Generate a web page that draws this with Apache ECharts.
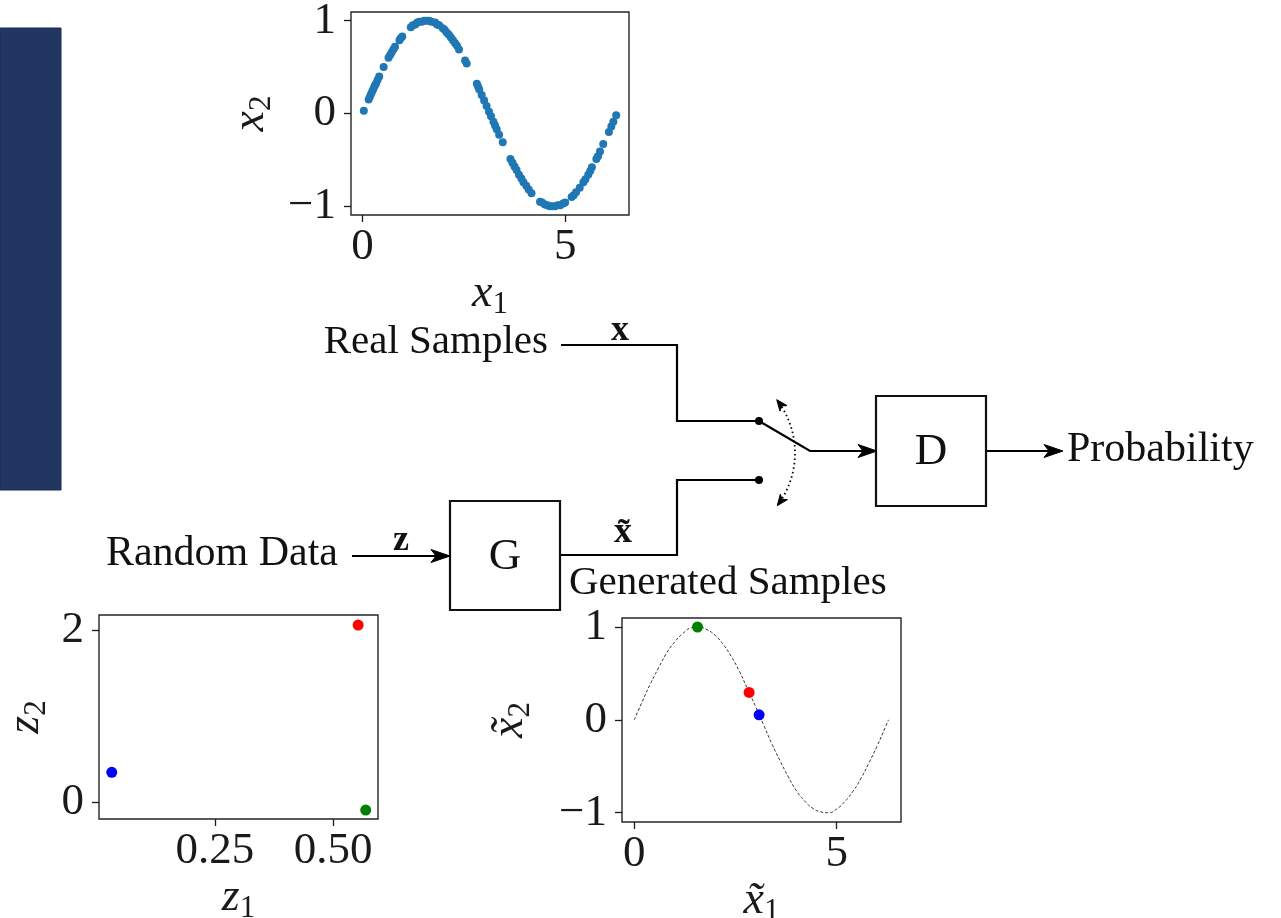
<!DOCTYPE html>
<html>
<head>
<meta charset="utf-8">
<script src="https://cdn.jsdelivr.net/npm/echarts@6/dist/echarts.min.js"></script>
<style>
  html, body { margin: 0; padding: 0; background: #fff; }
  #chart { width: 1281px; height: 918px; }
</style>
</head>
<body>
<div id="chart"></div>
<script>
// Real samples (x1, x2) drawn from the sine manifold
const realX1 = [0.03, 0.15, 0.18, 0.21, 0.24, 0.27, 0.30, 0.33, 0.37, 0.41, 0.52, 0.64, 0.68, 0.72, 0.76, 0.80,
  0.91, 0.94, 0.98, 1.19, 1.24, 1.30, 1.35, 1.40, 1.46, 1.52, 1.59, 1.64, 1.70, 1.79, 1.84, 1.89, 1.98, 2.03,
  2.08, 2.13, 2.18, 2.23, 2.28, 2.33, 2.38, 2.53, 2.57, 2.82, 2.85, 2.88, 2.94, 3.00, 3.06, 3.12, 3.17, 3.23,
  3.27, 3.31, 3.37, 3.46, 3.65, 3.70, 3.75, 3.80, 3.86, 3.92, 3.97, 4.04, 4.10, 4.17, 4.38, 4.43, 4.50, 4.56,
  4.62, 4.68, 4.75, 4.82, 4.88, 4.95, 5.00, 5.16, 5.21, 5.27, 5.36, 5.45, 5.50, 5.57, 5.62, 5.66, 5.77, 5.81,
  5.86, 5.94, 6.08, 6.14, 6.19, 6.26];
const realX2 = [0.03, 0.15, 0.18, 0.21, 0.24, 0.27, 0.30, 0.32, 0.36, 0.40, 0.50, 0.60, 0.63, 0.66, 0.69, 0.72,
  0.79, 0.81, 0.83, 0.93, 0.95, 0.96, 0.98, 0.99, 0.99, 1.00, 1.00, 1.00, 0.99, 0.98, 0.96, 0.95, 0.92, 0.90,
  0.87, 0.85, 0.82, 0.79, 0.76, 0.73, 0.69, 0.57, 0.54, 0.32, 0.29, 0.26, 0.20, 0.14, 0.08, 0.02, -0.03, -0.09,
  -0.13, -0.17, -0.23, -0.31, -0.49, -0.53, -0.57, -0.61, -0.66, -0.70, -0.74, -0.78, -0.82, -0.86, -0.95, -0.96, -0.98, -0.99,
  -1.00, -1.00, -1.00, -0.99, -0.99, -0.97, -0.96, -0.90, -0.88, -0.85, -0.80, -0.74, -0.71, -0.66, -0.62, -0.58, -0.49, -0.46,
  -0.41, -0.33, -0.20, -0.14, -0.09, -0.02];

// Latent codes fed to the generator
const latentZ1 = [0.032, 0.553, 0.569];
const latentZ2 = [0.352, 2.058, -0.085];
const pointColors = ['#0000ff', '#ff0000', '#008000'];

// Generated samples for those codes
const genX1 = [3.084, 2.837, 1.562];
const genX2 = [0.054, 0.295, 1.000];

// Reference curve behind the generated samples
const curveX = [0, 0.2, 0.4, 0.6, 0.8, 1.0, 1.2, 1.4, 1.6, 1.8, 2.0, 2.2, 2.4, 2.6, 2.8, 3.0, 3.2, 3.4, 3.6,
  3.8, 4.0, 4.2, 4.4, 4.6, 4.8, 5.0, 5.2, 5.4, 5.6, 5.8, 6.0, 6.2, 6.28];
const curveY = [0, 0.20, 0.39, 0.56, 0.72, 0.84, 0.93, 0.99, 1.00, 0.97, 0.91, 0.81, 0.68, 0.52, 0.33, 0.14,
  -0.06, -0.26, -0.44, -0.61, -0.76, -0.87, -0.95, -0.99, -1.00, -0.96, -0.88, -0.77, -0.63, -0.46, -0.28, -0.08, 0.00];

// Tick labels
const sineXTicks = [0, 5];
const sineYTicks = [-1, 0, 1];
const latentXTicks = [0.25, 0.50];
const latentYTicks = [0, 2];

const SERIF = '"Liberation Serif", "DejaVu Serif", serif';
const INK = '#1a1a1a';

const zip = (a, b) => a.map((v, i) => [v, b[i]]);
const fmtNum = (digits) => (v) => {
  const s = Math.abs(v).toFixed(digits);
  return v < 0 ? '\u2212' + s : s;
};

function axisName(base, sub, tilde) {
  return '{i|' + base + (tilde ? '\u0303' : '') + '}{s|' + sub + '}';
}
const nameRich = {
  i: { fontFamily: SERIF, fontStyle: 'italic', fontSize: 46, color: INK },
  s: { fontFamily: SERIF, fontSize: 31, color: INK, padding: [22, 0, 0, 0] }
};

function makeAxis(gridIndex, min, max, ticks, digits, name, gap, margin) {
  return {
    type: 'value', gridIndex, min, max,
    axisLine: { show: false, onZero: false },
    axisTick: { show: true, inside: false, length: 7, lineStyle: { color: INK, width: 1.3 }, customValues: ticks },
    axisLabel: { customValues: ticks, formatter: fmtNum(digits), fontFamily: SERIF, fontSize: 45, color: INK, margin },
    splitLine: { show: false },
    name, nameLocation: 'middle', nameGap: gap, nameTextStyle: { rich: nameRich }
  };
}

const frame = { show: true, borderColor: '#262626', borderWidth: 1.4, backgroundColor: 'transparent', outerBoundsMode: 'none', containLabel: false };

// ---- block diagram geometry ----
const LW = 2.2;
const black = '#000';
function arrowHead(tipX, tipY, angle, len, half, notch) {
  const dx = Math.cos(angle), dy = Math.sin(angle);
  const px = -dy, py = dx;
  const bx = tipX - len * dx, by = tipY - len * dy;
  return [
    [tipX, tipY],
    [bx + half * px, by + half * py],
    [tipX - (len - notch) * dx, tipY - (len - notch) * dy],
    [bx - half * px, by - half * py]
  ];
}
function poly(points) {
  return { type: 'polyline', shape: { points }, style: { stroke: black, lineWidth: LW, fill: null, lineJoin: 'miter' }, z: 10 };
}
function head(points) {
  return { type: 'polygon', shape: { points }, style: { fill: black, stroke: black, lineWidth: 1 }, z: 11 };
}
function box(x, y, w, h) {
  return { type: 'rect', shape: { x, y, width: w, height: h }, style: { fill: '#fff', stroke: '#111', lineWidth: LW }, z: 10 };
}
function label(text, x, y, opts) {
  return {
    type: 'text', x, y, z: 12,
    style: Object.assign({ text, fontFamily: SERIF, fontSize: 42, fill: '#111', align: 'left', verticalAlign: 'middle' }, opts || {})
  };
}

// switch arc (dotted) with arrowheads at both ends
const arcC = [708, 453], arcR = 87, arcA0 = -0.66, arcA1 = 0.65;
const arcTop = [arcC[0] + arcR * Math.cos(arcA0), arcC[1] + arcR * Math.sin(arcA0)];
const arcBot = [arcC[0] + arcR * Math.cos(arcA1), arcC[1] + arcR * Math.sin(arcA1)];
const topDir = Math.atan2(-Math.cos(arcA0), Math.sin(arcA0));
const botDir = Math.atan2(Math.cos(arcA1), -Math.sin(arcA1));

const graphics = [
  // left accent bar
  { type: 'rect', shape: { x: 0, y: 28, width: 61, height: 462 }, style: { fill: '#213762', stroke: '#1a2d52', lineWidth: 1 }, z: 1 },

  // real sample path into the switch
  poly([[561, 345], [677, 345], [677, 421], [759, 421]]),
  // generated sample path into the switch
  poly([[560, 555], [677, 555], [677, 480], [759, 480]]),
  { type: 'circle', shape: { cx: 759, cy: 421, r: 4 }, style: { fill: black }, z: 12 },
  { type: 'circle', shape: { cx: 759, cy: 480, r: 4 }, style: { fill: black }, z: 12 },
  // switch arm and line into D
  poly([[759, 421], [810, 451], [864, 451]]),
  head(arrowHead(877, 451, 0, 19, 6.5, 5)),
  // dotted toggle arc
  { type: 'arc', shape: { cx: arcC[0], cy: arcC[1], r: arcR, startAngle: arcA0 + 0.05, endAngle: arcA1 - 0.05, clockwise: true },
    style: { stroke: black, lineWidth: 1.8, lineDash: [1.5, 3], fill: null }, z: 10 },
  head(arrowHead(arcTop[0], arcTop[1], topDir, 11, 4.5, 3)),
  head(arrowHead(arcBot[0], arcBot[1], botDir, 11, 4.5, 3)),

  // random data -> G
  poly([[352, 556], [437, 556]]),
  head(arrowHead(450, 556, 0, 19, 6.5, 5)),
  // D -> probability
  poly([[986, 451], [1050, 451]]),
  head(arrowHead(1063, 451, 0, 19, 6.5, 5)),

  box(450, 501, 110, 109),
  box(876, 396, 110, 110),
  label('G', 505, 557, { align: 'center', fontSize: 45 }),
  label('D', 931, 452, { align: 'center', fontSize: 45 }),

  label('Real Samples', 548, 342, { align: 'right', fontSize: 41 }),
  label('Random Data', 338, 554, { align: 'right' }),
  label('Probability', 1067, 450),
  label('Generated Samples', 569, 583, { fontSize: 41 }),
  label('x', 620, 331, { align: 'center', fontWeight: 'bold', fontSize: 36 }),
  label('z', 401, 541, { align: 'center', fontWeight: 'bold', fontSize: 36 }),
  label('x\u0303', 623, 533, { align: 'center', fontWeight: 'bold', fontSize: 36 })
];

const chart = echarts.init(document.getElementById('chart'), null, { renderer: 'canvas' });
chart.setOption({
  animation: false,
  backgroundColor: '#fff',
  grid: [
    Object.assign({ left: 351, top: 12, width: 278, height: 203 }, frame),
    Object.assign({ left: 99, top: 615, width: 279, height: 204 }, frame),
    Object.assign({ left: 622, top: 618, width: 279, height: 204 }, frame)
  ],
  xAxis: [
    makeAxis(0, -0.286, 6.576, sineXTicks, 0, axisName('x', '1'), 52, 10),
    makeAxis(1, 0.005, 0.595, latentXTicks, 2, axisName('z', '1'), 39, 10),
    makeAxis(2, -0.303, 6.588, sineXTicks, 0, axisName('x', '1', true), 39, 10)
  ],
  yAxis: [
    makeAxis(0, -1.094, 1.094, sineYTicks, 0, axisName('x', '2'), 74, 15),
    makeAxis(1, -0.189, 2.174, latentYTicks, 0, axisName('z', '2'), 47, 15),
    makeAxis(2, -1.10, 1.097, sineYTicks, 0, axisName('x', '2', true), 86, 15)
  ],
  series: [
    {
      type: 'scatter', xAxisIndex: 0, yAxisIndex: 0, symbolSize: 8,
      itemStyle: { color: '#1f77b4', opacity: 1 },
      data: zip(realX1, realX2)
    },
    {
      type: 'scatter', xAxisIndex: 1, yAxisIndex: 1, symbolSize: 11,
      data: zip(latentZ1, latentZ2).map((p, i) => ({ value: p, itemStyle: { color: pointColors[i], opacity: 1 } }))
    },
    {
      type: 'line', xAxisIndex: 2, yAxisIndex: 2, smooth: true, symbol: 'none',
      lineStyle: { color: '#333', width: 1, type: [3, 2] },
      data: zip(curveX, curveY), z: 2
    },
    {
      type: 'scatter', xAxisIndex: 2, yAxisIndex: 2, symbolSize: 11, z: 3,
      data: zip(genX1, genX2).map((p, i) => ({ value: p, itemStyle: { color: pointColors[i], opacity: 1 } }))
    }
  ],
  graphic: graphics
});
</script>
</body>
</html>
